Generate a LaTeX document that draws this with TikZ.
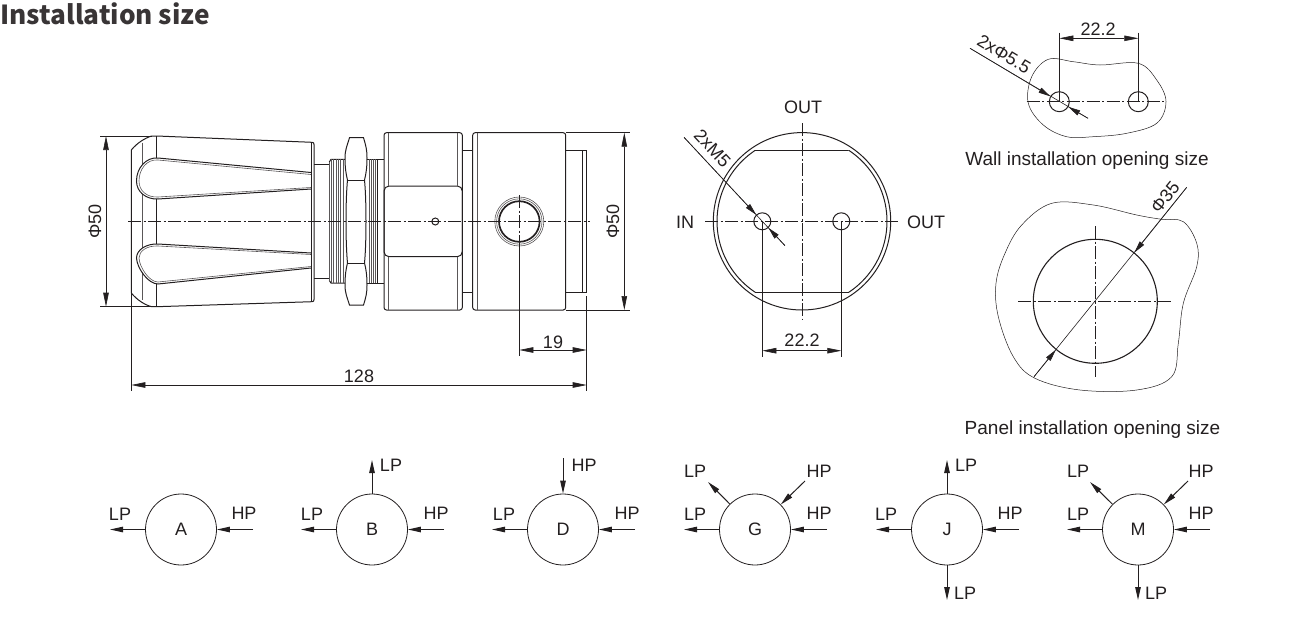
\documentclass[tikz,border=0pt]{standalone}
\usepackage{fontspec}
\setmainfont{Liberation Sans}
\newfontfamily\titlefont{Noto Sans CJK SC}
\usetikzlibrary{arrows.meta,positioning,calc}

\definecolor{inkgrey}{HTML}{231F20}

\tikzset{
    part/.style={line width=1pt,draw=inkgrey},
    partthin/.style={line width=0.6pt,draw=inkgrey!75},
    centerline/.style={line width=0.6pt,draw=inkgrey,dash pattern=on 13pt off 2.5pt on 2pt off 2.5pt},
    extline/.style={line width=0.6pt,draw=inkgrey},
    dimline/.style={line width=0.6pt,draw=inkgrey,{Triangle[length=14pt,width=5.5pt]}-{Triangle[length=14pt,width=5.5pt]}},
    leadline/.style={line width=0.6pt,draw=inkgrey,-{Triangle[length=12pt,width=5.5pt]}},
    flowline/.style={line width=1pt,draw=inkgrey,-{Triangle[length=13pt,width=5.5pt]}},
    lbl/.style={font=\fontsize{18}{20}\selectfont,text=inkgrey,inner sep=0pt},
    caplbl/.style={font=\fontsize{19}{21}\selectfont,text=inkgrey,inner sep=0pt},
    hole/.style={circle,draw=inkgrey,line width=1pt,inner sep=0pt,minimum size=17pt},
    wallhole/.style={circle,draw=inkgrey,line width=1pt,inner sep=0pt,minimum size=20pt},
    portcircle/.style={circle,draw=inkgrey,line width=0.8pt,inner sep=0pt,minimum size=71pt,font=\fontsize{18}{20}\selectfont,text=inkgrey},
}

\begin{document}
\begin{tikzpicture}[x=1pt,y=-1pt]
    \useasboundingbox (0,0) rectangle (1300,616);

    \node[font=\titlefont\bfseries\fontsize{26.2}{30}\selectfont,text=inkgrey!90,anchor=west,inner sep=0pt] (title) at (0,14) {Installation size};

    % side view: knob
    \draw[part] (131.3,150) .. controls (137,143) and (145,138) .. (151.7,136) -- (156.7,136) -- (312,142.3)
        .. controls (313.5,142.4) and (314,143) .. (314,144.5) -- (314,299.5)
        .. controls (314,301) and (313.5,301.6) .. (312,301.7) -- (156.7,306.7) -- (151.7,306.7)
        .. controls (145,305) and (137,300) .. (131.3,293) -- cycle;
    \draw[partthin] (142.7,142.7) -- (142.7,300);
    \draw[part] (156.7,136) -- (156.7,306.7);
    % side view: grooves
    \draw[part,fill=white] (311,172.5) -- (158,158) .. controls (146,157) and (136.5,168) .. (136.5,181) .. controls (136.5,192) and (146,199.5) .. (158,199) -- (311,189);
    \draw[partthin] (311,174.5) -- (158,160) .. controls (147,159) and (139,169) .. (139,181) .. controls (139,191) and (147,197.5) .. (158,197) -- (311,187.5);
    \draw[part,fill=white] (311,253) -- (158,244) .. controls (146,243.5) and (136.5,250) .. (136.5,258) .. controls (137,268) and (148,284) .. (158,284) -- (311,268);
    \draw[partthin] (311,254.5) -- (158,246) .. controls (147,245.5) and (139,251) .. (139,258) .. controls (139.5,267) and (149,282) .. (158,282) -- (311,266.5);
    \draw[part] (311,142.3) -- (311,301.7);

    % side view: neck and threads
    \draw[part] (314,164.3) -- (329.3,164.3) (314,278) -- (329.3,278);
    \draw[part] (329.3,162) -- (331,159.3) -- (345,159.3) (329.3,280.5) -- (331,283) -- (345,283);
    \draw[partthin] (329.3,162) -- (329.3,280.5) (331.5,159.3) -- (331.5,283) (333.7,159.3) -- (333.7,283)
        (336,159.3) -- (336,283) (338.2,159.3) -- (338.2,283) (340.5,159.3) -- (340.5,283) (343,159.3) -- (343,283);
    \draw[part] (367,159.3) -- (377,159.3) -- (377,283) -- (367,283);
    \draw[partthin] (369,159.3) -- (369,283) (371,159.3) -- (371,283) (373,159.3) -- (373,283) (375,159.3) -- (375,283);
    \draw[part] (377,159) -- (384,159) (377,283) -- (384,283);

    % side view: nut
    \draw[part,fill=white] (349.5,137.7) -- (363.5,137.7) .. controls (366,146) and (367,150) .. (367,158)
        .. controls (367,168) and (366,174) .. (364.5,180) .. controls (366.5,200) and (366.5,243) .. (364.5,263)
        .. controls (366,269) and (367,275) .. (367,285) .. controls (367,293) and (366,297) .. (363.5,305)
        -- (349.5,305) .. controls (347,297) and (345,293) .. (345,285) .. controls (345,275) and (346,269) .. (347.5,263)
        .. controls (345.5,243) and (345.5,200) .. (347.5,180) .. controls (346,174) and (345,168) .. (345,158)
        .. controls (345,150) and (347,146) .. (349.5,137.7) -- cycle;
    \draw[part] (347.5,180) -- (364.5,180) (347.5,263) -- (364.5,263);

    % side view: body
    \draw[part,rounded corners=2.5pt] (384,132.7) rectangle (462.3,310);
    \draw[part,rounded corners=5pt] (384,186) rectangle (462.3,256.7);
    \draw[partthin] (388.3,132.7) -- (388.3,186) (457.7,132.7) -- (457.7,186) (388.3,256.7) -- (388.3,310) (457.7,256.7) -- (457.7,310);
    \draw[part] (462.3,150.7) -- (472.7,150.7) (462.3,292.7) -- (472.7,292.7);
    \draw[part,rounded corners=2.5pt] (472.7,132.7) -- (565.7,132.7) -- (565.7,310) -- (472.7,310) -- cycle;
    \draw[partthin] (477,132.7) -- (477,310);
    \draw[part] (565.7,150.7) -- (586.7,150.7) -- (586.7,292.7) -- (565.7,292.7);
    \draw[part] (582.3,150.7) -- (582.3,292.7);
    \draw[part] (435.3,221.5) circle (3.5);
    \draw[partthin] (519.3,221.5) circle (24.5);
    \draw[partthin] (519.3,221.5) circle (22.7);
    \draw[line width=1.7pt,draw=inkgrey] (519.3,221.5) circle (20.3);
    \draw[centerline] (128,221.5) -- (590,221.5);
    \draw[centerline] (519.3,195) -- (519.3,247);

    % side view: dimensions
    \coordinate (knobTop) at (106,136);
    \coordinate (knobBot) at (106,306.7);
    \draw[extline] (100,136) -- (152,136) (100,306.7) -- (152,306.7);
    \draw[dimline] (knobTop) -- (knobBot);
    \node[lbl,rotate=90] (diaKnob) at (95,221.5) {Φ50};
    \coordinate (bodyTop) at (624.3,132.7);
    \coordinate (bodyBot) at (624.3,310);
    \draw[extline] (566,132.7) -- (630,132.7) (566,310) -- (630,310);
    \draw[dimline] (bodyTop) -- (bodyBot);
    \node[lbl,rotate=90] (diaBody) at (613,221.5) {Φ50};
    \coordinate (portDim) at (519.3,350);
    \coordinate (tailDim) at (586.7,350);
    \draw[extline] (519.3,247) -- (519.3,356) (586.7,296) -- (586.7,391);
    \draw[dimline] (portDim) -- (tailDim);
    \node[lbl] (dimPort) at (553,342) {19};
    \coordinate (lenL) at (131.3,385);
    \coordinate (lenR) at (586.7,385);
    \draw[extline] (131.3,293) -- (131.3,391);
    \draw[dimline] (lenL) -- (lenR);
    \node[lbl] (dimLen) at (359,376) {128};

    % end view
    \draw[part] (802,221.3) circle (88.7);
    \begin{scope}
        \clip (700,150.7) rectangle (900,292);
        \draw[part] (802,221.3) circle (85);
    \end{scope}
    \draw[part] (755,150.7) -- (848,150.7) (755,292) -- (848,292);
    \node[hole] (holeIn) at (762.3,221.3) {};
    \node[hole] (holeOut) at (841.3,221.3) {};
    \draw[centerline] (705,221.3) -- (899,221.3);
    \draw[centerline] (802,123) -- (802,319);
    \node[lbl] (outTop) at (803,107) {OUT};
    \node[lbl] (inLeft) at (685,222) {IN};
    \node[lbl] (outRight) at (926,222) {OUT};
    \coordinate (leadInA) at (684,137.3);
    \coordinate (leadInB) at (785,245.7);
    \draw[extline] (leadInA) -- (leadInB);
    \draw[leadline] (leadInA) -- (holeIn);
    \draw[leadline] (leadInB) -- (holeIn);
    \node[lbl,rotate=-47] (threadLbl) at (712.5,148.5) {2xM5};
    \coordinate (holeDimL) at (762.3,350.7);
    \coordinate (holeDimR) at (841.3,350.7);
    \draw[extline] (762.3,221.3) -- (762.3,356.7) (841.3,221.3) -- (841.3,356.7);
    \draw[dimline] (holeDimL) -- (holeDimR);
    \node[lbl] (dimHole) at (802,340) {22.2};

    % wall opening
    \draw[line width=0.5pt,draw=inkgrey] plot[smooth cycle,tension=0.6] coordinates {(1048.3,59.3) (1073.3,61.7) (1100,65) (1138.3,63.3) (1156.7,80) (1166,101.7) (1156.7,123.3) (1126.7,133.3) (1093.3,136.7) (1066.7,136.7) (1043.3,125) (1028.3,103.3) (1031.7,76.7)};
    \node[wallhole] (wallL) at (1059.3,101.7) {};
    \node[wallhole] (wallR) at (1138.3,101.7) {};
    \draw[centerline] (1026.7,101.7) -- (1166,101.7);
    \coordinate (wallDimL) at (1059.3,38.3);
    \coordinate (wallDimR) at (1138.3,38.3);
    \draw[extline] (1059.3,32.7) -- (1059.3,101.7) (1138.3,32.7) -- (1138.3,101.7);
    \draw[dimline] (wallDimL) -- (wallDimR);
    \node[lbl] (dimWall) at (1098,29) {22.2};
    \coordinate (leadWallA) at (970,48.3);
    \coordinate (leadWallB) at (1088,118.3);
    \draw[extline] (leadWallA) -- (leadWallB);
    \draw[leadline] (leadWallA) -- (wallL);
    \draw[leadline] (leadWallB) -- (wallL);
    \node[lbl,rotate=-31] (wallHoleLbl) at (1004,54) {2xΦ5.5};
    \node[caplbl] (wallCap) at (1087,161) {Wall installation opening size};

    % panel opening
    \draw[line width=0.5pt,draw=inkgrey] plot[smooth cycle,tension=0.6] coordinates {(1051.7,203.3) (1093.3,205) (1136.7,215) (1161.7,219.3) (1183.3,221.7) (1196.7,243.3) (1196.7,266.7) (1183.3,303.3) (1178.3,343.3) (1171.7,376.7) (1136.7,390) (1080,390) (1035,378.3) (1013.3,356.7) (998.3,316.7) (996,283.3) (1005,253.3) (1021.7,225)};
    \node[circle,draw=inkgrey,line width=1.1pt,inner sep=0pt,minimum size=124pt] (panelHole) at (1095.3,301.3) {};
    \draw[centerline] (1018.3,301.3) -- (1170.7,301.3);
    \draw[centerline] (1095.3,226) -- (1095.3,377.3);
    \coordinate (leadPanelA) at (1034,376.7);
    \coordinate (leadPanelB) at (1186.7,187.3);
    \draw[extline] (leadPanelA) -- (leadPanelB);
    \draw[leadline] (leadPanelA) -- (panelHole);
    \draw[leadline] (leadPanelB) -- (panelHole);
    \node[lbl,rotate=51] (panelLbl) at (1165,197) {Φ35};
    \node[caplbl] (panelCap) at (1092.5,430) {Panel installation opening size};

    % port layouts
    \node[portcircle] (portA) at (181,529.5) {A};
    \coordinate (aLP) at (110,529.5);
    \coordinate (aHP) at (253,529.5);
    \draw[flowline] (portA) -- (aLP);
    \draw[flowline] (aHP) -- (portA);
    \node[lbl] (aLPlbl) at (120,514) {LP};
    \node[lbl] (aHPlbl) at (244,513) {HP};

    \node[portcircle] (portB) at (372,529.5) {B};
    \coordinate (bLP) at (301,529.5);
    \coordinate (bHP) at (444,529.5);
    \coordinate (bUp) at (372,460);
    \draw[flowline] (portB) -- (bLP);
    \draw[flowline] (bHP) -- (portB);
    \draw[flowline] (portB) -- (bUp);
    \node[lbl] (bLPlbl) at (312,514) {LP};
    \node[lbl] (bHPlbl) at (436,513) {HP};
    \node[lbl] (bUplbl) at (391,465) {LP};

    \node[portcircle] (portD) at (563,529.5) {D};
    \coordinate (dLP) at (492,529.5);
    \coordinate (dHP) at (635,529.5);
    \coordinate (dDown) at (563,458);
    \draw[flowline] (portD) -- (dLP);
    \draw[flowline] (dHP) -- (portD);
    \draw[flowline] (dDown) -- (portD);
    \node[lbl] (dLPlbl) at (504,514) {LP};
    \node[lbl] (dHPlbl) at (627,513) {HP};
    \node[lbl] (dDownlbl) at (584,465) {HP};

    \node[portcircle] (portG) at (755,529.5) {G};
    \coordinate (gLP) at (684,529.5);
    \coordinate (gHP) at (827,529.5);
    \coordinate (gLPup) at (708,482);
    \coordinate (gHPup) at (805,481);
    \draw[flowline] (portG) -- (gLP);
    \draw[flowline] (gHP) -- (portG);
    \draw[flowline] (portG) -- (gLPup);
    \draw[flowline] (gHPup) -- (portG);
    \node[lbl] (gLPlbl) at (695,514) {LP};
    \node[lbl] (gHPlbl) at (819,513) {HP};
    \node[lbl] (gLPuplbl) at (695,471) {LP};
    \node[lbl] (gHPuplbl) at (819,471) {HP};

    \node[portcircle] (portJ) at (947,529.5) {J};
    \coordinate (jLP) at (876,529.5);
    \coordinate (jHP) at (1019,529.5);
    \coordinate (jUp) at (947,460);
    \coordinate (jDown) at (947,600);
    \draw[flowline] (portJ) -- (jLP);
    \draw[flowline] (jHP) -- (portJ);
    \draw[flowline] (portJ) -- (jUp);
    \draw[flowline] (portJ) -- (jDown);
    \node[lbl] (jLPlbl) at (886,514) {LP};
    \node[lbl] (jHPlbl) at (1010,513) {HP};
    \node[lbl] (jUplbl) at (966,465) {LP};
    \node[lbl] (jDownlbl) at (965,593) {LP};

    \node[portcircle] (portM) at (1138,529.5) {M};
    \coordinate (mLP) at (1067,529.5);
    \coordinate (mHP) at (1210,529.5);
    \coordinate (mLPup) at (1090,482);
    \coordinate (mHPup) at (1188,481);
    \coordinate (mDown) at (1138,600);
    \draw[flowline] (portM) -- (mLP);
    \draw[flowline] (mHP) -- (portM);
    \draw[flowline] (portM) -- (mLPup);
    \draw[flowline] (mHPup) -- (portM);
    \draw[flowline] (portM) -- (mDown);
    \node[lbl] (mLPlbl) at (1078,514) {LP};
    \node[lbl] (mHPlbl) at (1201,513) {HP};
    \node[lbl] (mLPuplbl) at (1078,471) {LP};
    \node[lbl] (mHPuplbl) at (1201,471) {HP};
    \node[lbl] (mDownlbl) at (1156,593) {LP};
\end{tikzpicture}
\end{document}
